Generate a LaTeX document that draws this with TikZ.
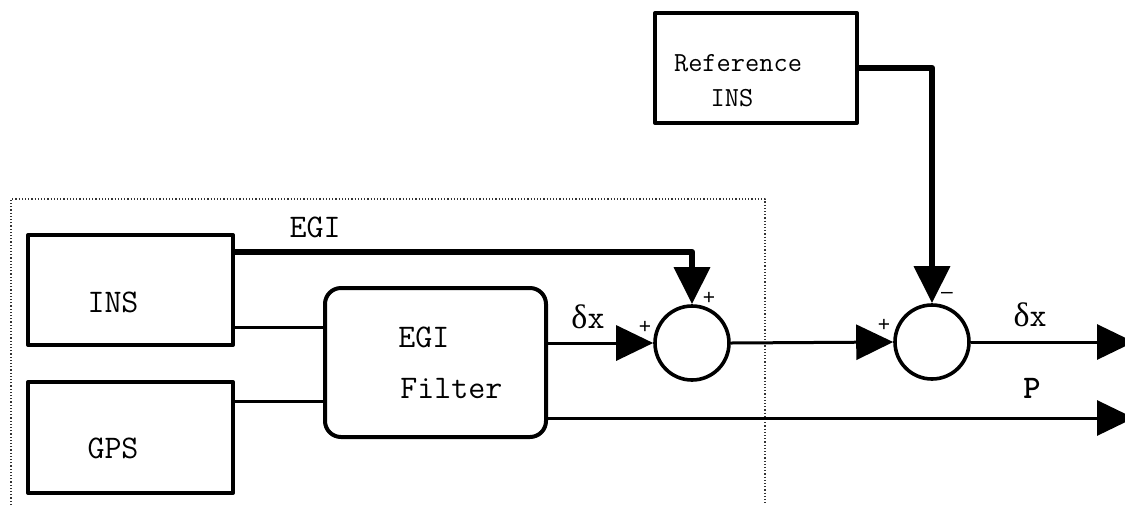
\documentclass[tikz,border=0pt]{standalone}
\usepackage{fontspec}
\setsansfont{Liberation Sans}
\newfontfamily\grkfont{Liberation Serif}
\usetikzlibrary{arrows.meta}
\begin{document}
\begin{tikzpicture}[x=0.5pt,y=-0.5pt,
  blockbox/.style={draw,line width=2pt,inner sep=0pt},
  sumnode/.style={draw,circle,line width=1.8pt,minimum size=37pt,inner sep=0pt},
  lbl/.style={font=\fontsize{16.5}{20}\selectfont\ttfamily,inner sep=0pt},
  smalllbl/.style={font=\fontsize{13.8}{16}\selectfont\ttfamily,inner sep=0pt},
  sgn/.style={font=\fontsize{10.5}{12}\selectfont\sffamily,inner sep=0pt},
  thinline/.style={line width=1.5pt},
  thickline/.style={line width=3.3pt},
  tip/.style={-{Triangle[length=18.5pt,width=17.5pt]}},
  line join=round]
\useasboundingbox (0,0) rectangle (1125,505);
\clip (0,0) rectangle (1125,505);

% dotted frame around the EGI unit (open at the bottom)
\draw[line width=0.6pt,dash pattern=on 0.6pt off 1pt,black!80]
  (11,505) -- (11,199) -- (765,199) -- (765,505);

% blocks
\node[blockbox,minimum width=102.5pt,minimum height=55pt] (ins) at (130.5,290) {};
\node[blockbox,minimum width=102.5pt,minimum height=55.5pt] (gps) at (130.5,437.5) {};
\node[blockbox,rounded corners=8pt,minimum width=110.5pt,minimum height=74.5pt] (filter) at (435.5,362.5) {};
\node[blockbox,minimum width=101pt,minimum height=55pt] (ref) at (756,68) {};
\node[sumnode] (s1) at (692,343) {};
\node[sumnode] (s2) at (932,342) {};

% block texts
\node[lbl] (insT) at (113,302) {INS};
\node[lbl] (gpsT) at (113,448) {GPS};
\node[lbl,anchor=west] (filT1) at (398,337) {EGI};
\node[lbl,anchor=west] (filT2) at (400,389) {Filter};
\node[smalllbl] (refT1) at (738,63) {Reference};
\node[smalllbl] (refT2) at (732,98) {INS};

% helper levels for the connectors
\coordinate (yEgi) at (0,252);
\coordinate (yIns) at (0,327);
\coordinate (yGps) at (0,401);
\coordinate (yRef) at (0,68);
\coordinate (yP) at (0,418);
\coordinate (outDx) at (1134,342);
\coordinate (outP) at (1134,418);

% connectors
\draw[thickline,tip] (ins.east |- yEgi) -| (s1.north);
\draw[thinline] (ins.east |- yIns) -- (filter.west |- yIns);
\draw[thinline] (gps.east |- yGps) -- (filter.west |- yGps);
\draw[thinline,tip] (filter.east |- s1) -- (s1.west);
\draw[thinline,tip] (s1.east) -- (s2.west);
\draw[thickline,tip] (ref.east |- yRef) -| (s2.north);
\draw[thinline,tip] (s2.east) -- (outDx);
\draw[thinline,tip] (filter.east |- yP) -- (outP);

% connector labels
\node[lbl] (egiL) at (315,227) {EGI};
\node[lbl] (dx1) at (588,317) {{\grkfont\fontsize{17}{20}\selectfont δ}x};
\node[lbl] (dx2) at (1030,315) {{\grkfont\fontsize{17}{20}\selectfont δ}x};
\node[lbl,font=\fontsize{16.5}{20}\selectfont\ttfamily\bfseries] (pL) at (1032,388) {P};
\node[sgn] (p1) at (645,327) {+};
\node[sgn] (p2) at (709,298) {+};
\node[sgn] (p3) at (884,325) {+};
\node[sgn] (m1) at (947,295) {–};
\end{tikzpicture}
\end{document}
